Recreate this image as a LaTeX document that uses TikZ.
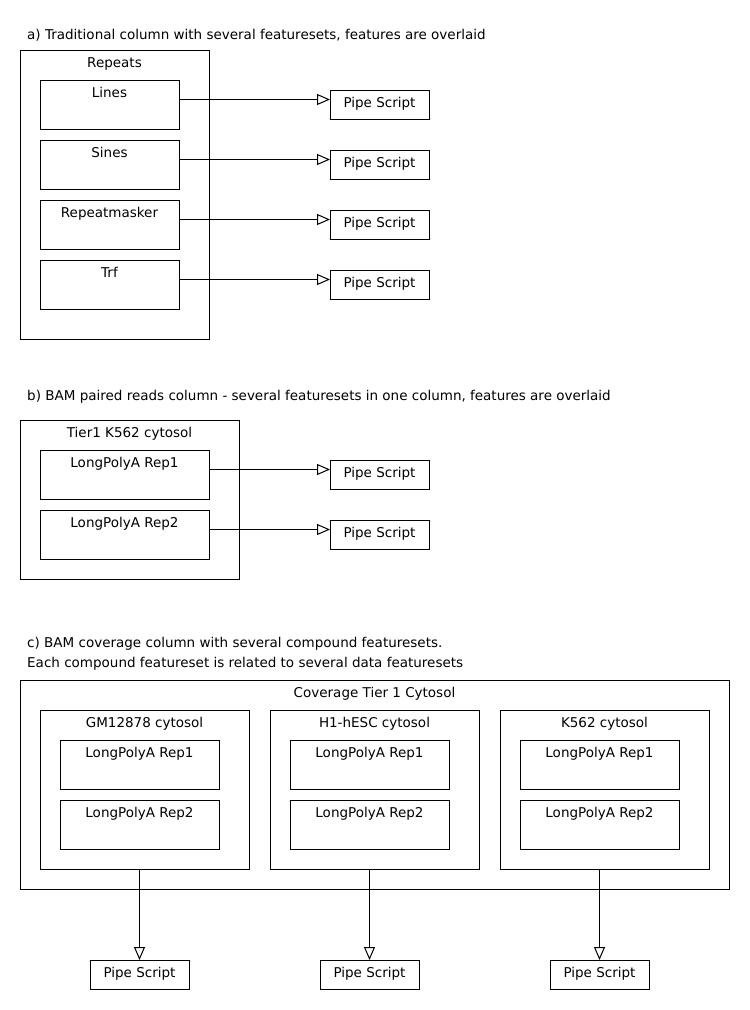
\documentclass[tikz,border=0pt]{standalone}
\usepackage{fontspec}
\setmainfont{DejaVu Sans}
\usetikzlibrary{arrows.meta}
\begin{document}
\begin{tikzpicture}[x=1pt,y=-1pt,
  box/.style={draw, line width=1pt, inner sep=0pt, outer sep=0pt, anchor=north west},
  lbl/.style={anchor=base, yshift=-17pt, inner sep=0pt, font=\fontsize{13.5}{15}\selectfont},
  ttl/.style={anchor=base west, inner sep=0pt, font=\fontsize{13.5}{20}\selectfont, align=left},
  arr/.style={draw, line width=1pt, -{Triangle[open, length=13pt, width=11pt]}},
  pipe/.style={box, minimum width=99pt, minimum height=29pt, label={[lbl]north:Pipe Script}}
]
\useasboundingbox (0,0) rectangle (750,1010);

% ---------- a ----------
\node[ttl] (ta) at (27,39) {a) Traditional column with several featuresets, features are overlaid};
\node[box, minimum width=189pt, minimum height=289pt, label={[lbl]north:Repeats}] (rep) at (20,50) {};
\node[box, minimum width=139pt, minimum height=49pt, label={[lbl]north:Lines}] (a1) at (40,80) {};
\node[box, minimum width=139pt, minimum height=49pt, label={[lbl]north:Sines}] (a2) at (40,140) {};
\node[box, minimum width=139pt, minimum height=49pt, label={[lbl]north:Repeatmasker}] (a3) at (40,200) {};
\node[box, minimum width=139pt, minimum height=49pt, label={[lbl]north:Trf}] (a4) at (40,260) {};
\node[pipe] (pa1) at (330,90) {};
\node[pipe] (pa2) at (330,150) {};
\node[pipe] (pa3) at (330,210) {};
\node[pipe] (pa4) at (330,270) {};
\foreach \i in {1,...,4}
  \draw[arr] ([yshift=5pt]a\i.east) -- ([yshift=5pt]pa\i.west);

% ---------- b ----------
\node[ttl] (tb) at (27,400) {b) BAM paired reads column - several featuresets in one column, features are overlaid};
\node[box, minimum width=219pt, minimum height=159pt, label={[lbl]north:Tier1 K562 cytosol}] (tier) at (20,420) {};
\node[box, minimum width=169pt, minimum height=49pt, label={[lbl]north:LongPolyA Rep1}] (b1) at (40,450) {};
\node[box, minimum width=169pt, minimum height=49pt, label={[lbl]north:LongPolyA Rep2}] (b2) at (40,510) {};
\node[pipe] (pb1) at (330,460) {};
\node[pipe] (pb2) at (330,520) {};
\foreach \i in {1,2}
  \draw[arr] ([yshift=5pt]b\i.east) -- ([yshift=5pt]pb\i.west);

% ---------- c ----------
\node[ttl] (tc) at (27,667) {c) BAM coverage column with several compound featuresets.\\Each compound featureset is related to several data featuresets};
\node[box, minimum width=709pt, minimum height=209pt, label={[lbl]north:Coverage Tier 1 Cytosol}] (cov) at (20,680) {};
\foreach \n/\x/\t in {1/40/GM12878 cytosol, 2/270/H1-hESC cytosol, 3/500/K562 cytosol}{
  \node[box, minimum width=209pt, minimum height=159pt, label={[lbl]north:\t}] (s\n) at (\x,710) {};
  \node[box, minimum width=159pt, minimum height=49pt, label={[lbl]north:LongPolyA Rep1}] (s\n r1) at (\x+20,740) {};
  \node[box, minimum width=159pt, minimum height=49pt, label={[lbl]north:LongPolyA Rep2}] (s\n r2) at (\x+20,800) {};
  \node[pipe] (pc\n) at (\x+50,960) {};
  \draw[arr] (pc\n.north |- s\n.south) -- (pc\n.north);
}
\end{tikzpicture}
\end{document}
